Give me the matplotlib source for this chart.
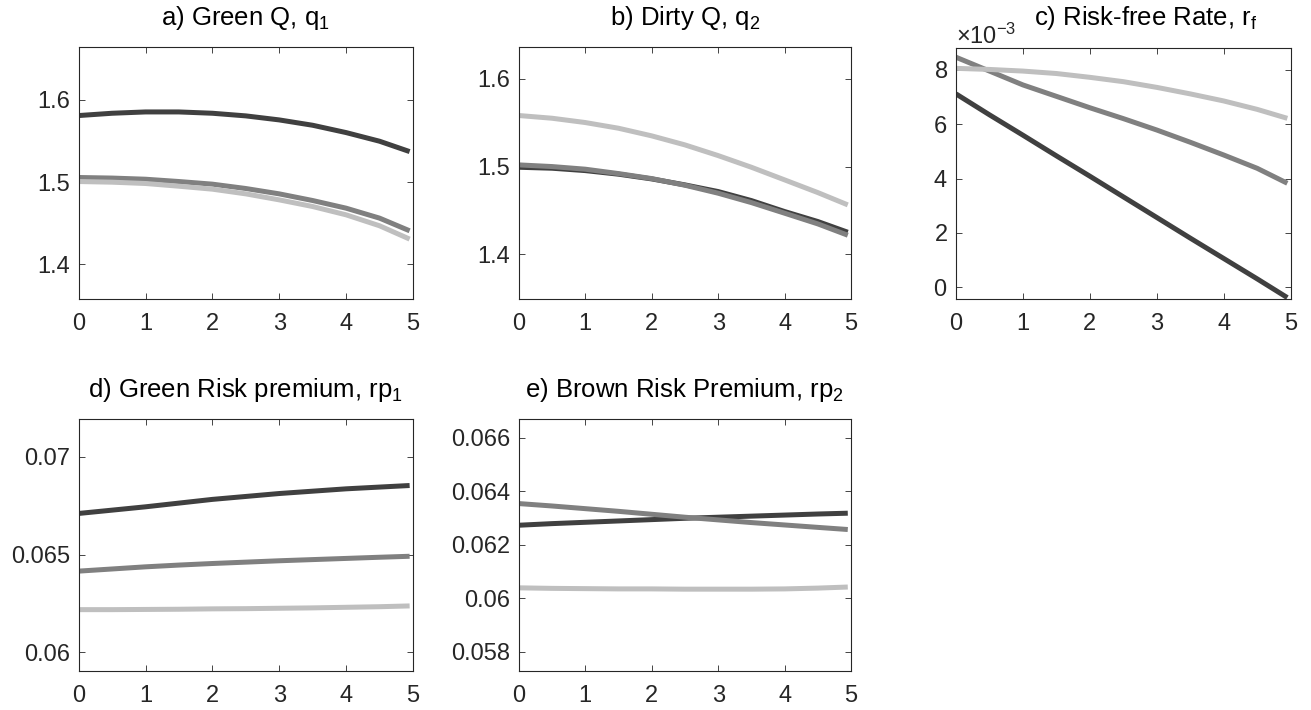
import matplotlib
matplotlib.use('Agg')
import matplotlib.pyplot as plt
from matplotlib.ticker import ScalarFormatter

plt.rcParams.update({
    'font.family': ['Liberation Sans', 'DejaVu Sans'],
    'mathtext.default': 'regular',
    'font.size': 17,
    'axes.edgecolor': '#262626',
    'axes.linewidth': 0.8,
    'xtick.color': '#262626',
    'ytick.color': '#262626',
    'xtick.direction': 'in',
    'ytick.direction': 'in',
    'xtick.top': True,
    'ytick.right': True,
    'xtick.major.size': 4,
    'ytick.major.size': 4,
    'xtick.major.width': 0.6,
    'ytick.major.width': 0.6,
})

DARK = '#404040'
MID = '#808080'
LIGHT = '#bfbfbf'

t = [0, 0.5, 1, 1.5, 2, 2.5, 3, 3.5, 4, 4.5, 4.95]

# a) green Q
q1_dark = [1.581, 1.5838, 1.5854, 1.5854, 1.5838, 1.5806, 1.5757, 1.5692, 1.5603, 1.5498, 1.5372]
q1_mid = [1.5057, 1.505, 1.5036, 1.5008, 1.4976, 1.4923, 1.4858, 1.4777, 1.4684, 1.4563, 1.4409]
q1_light = [1.5008, 1.5, 1.4984, 1.4951, 1.4915, 1.4858, 1.4785, 1.4704, 1.4603, 1.447, 1.4308]

# b) dirty Q
q2_dark = [1.4992, 1.4981, 1.4954, 1.4913, 1.4859, 1.4791, 1.4715, 1.4612, 1.4487, 1.4373, 1.4251]
q2_mid = [1.5019, 1.5, 1.497, 1.492, 1.4863, 1.4787, 1.4696, 1.4589, 1.4468, 1.4346, 1.4217]
q2_light = [1.5582, 1.5551, 1.5502, 1.5437, 1.535, 1.5247, 1.5125, 1.4992, 1.4848, 1.4703, 1.4563]

# c) risk-free rate
rf_dark = [7.12e-3, 6.35e-3, 5.6e-3, 4.84e-3, 4.09e-3, 3.33e-3, 2.57e-3, 1.81e-3, 1.06e-3, 0.31e-3, -0.38e-3]
rf_mid = [8.47e-3, 7.96e-3, 7.45e-3, 7.03e-3, 6.61e-3, 6.21e-3, 5.79e-3, 5.34e-3, 4.87e-3, 4.38e-3, 3.83e-3]
rf_light = [8.06e-3, 8.02e-3, 7.96e-3, 7.87e-3, 7.73e-3, 7.57e-3, 7.36e-3, 7.12e-3, 6.86e-3, 6.55e-3, 6.22e-3]

# d) green risk premium
rp1_dark = [0.0671, 0.06727, 0.06744, 0.06763, 0.06782, 0.06797, 0.06812, 0.06824, 0.06836, 0.06845, 0.06853]
rp1_mid = [0.06415, 0.06426, 0.06437, 0.06446, 0.06454, 0.06461, 0.06468, 0.06474, 0.0648, 0.06486, 0.06491]
rp1_light = [0.06218, 0.06218, 0.06219, 0.0622, 0.06222, 0.06223, 0.06225, 0.06227, 0.0623, 0.06233, 0.06237]

# e) brown risk premium
rp2_dark = [0.06273, 0.06279, 0.06284, 0.06289, 0.06294, 0.06299, 0.06303, 0.06307, 0.06311, 0.06315, 0.06318]
rp2_mid = [0.06354, 0.06345, 0.06335, 0.06325, 0.06314, 0.06303, 0.06293, 0.06283, 0.06274, 0.06265, 0.06257]
rp2_light = [0.06039, 0.06037, 0.06036, 0.06035, 0.06035, 0.06034, 0.06034, 0.06034, 0.06035, 0.06038, 0.06042]

panels = [
    ('a) Green Q, q$_1$', [0.0600, 0.5789, 0.2550, 0.3545], (q1_dark, q1_mid, q1_light),
     (1.358, 1.664), [1.4, 1.5, 1.6]),
    ('b) Dirty Q, q$_2$', [0.3957, 0.5789, 0.2535, 0.3545], (q2_dark, q2_mid, q2_light),
     (1.349, 1.636), [1.4, 1.5, 1.6]),
    ('c) Risk-free Rate, r$_f$', [0.7292, 0.5789, 0.2553, 0.3539], (rf_dark, rf_mid, rf_light),
     (-0.43e-3, 8.82e-3), [0, 2e-3, 4e-3, 6e-3, 8e-3]),
    ('d) Green Risk premium, rp$_1$', [0.0600, 0.0549, 0.2550, 0.3549], (rp1_dark, rp1_mid, rp1_light),
     (0.05904, 0.07193), [0.06, 0.065, 0.07]),
    ('e) Brown Risk Premium, rp$_2$', [0.3957, 0.0549, 0.2535, 0.3549], (rp2_dark, rp2_mid, rp2_light),
     (0.05728, 0.0667), [0.058, 0.06, 0.062, 0.064, 0.066]),
]

fig = plt.figure(figsize=(13.11, 7.10), dpi=100)

for title, pos, series, ylim, yticks in panels:
    ax = fig.add_axes(pos)
    for y, c in zip(series, (DARK, MID, LIGHT)):
        ax.plot(t, y, color=c, linewidth=3.6, solid_capstyle='butt')
    ax.set_xlim(0, 5)
    ax.set_ylim(*ylim)
    ax.set_xticks([0, 1, 2, 3, 4, 5])
    ax.set_yticks(yticks)
    ax.tick_params(axis='x', labelsize=17, pad=10)
    ax.tick_params(axis='y', labelsize=17, pad=6)
    if title.startswith('c)'):
        # nudge the title right so it clears the exponent label
        ax.set_title(title, fontsize=18.5, pad=16, color='black', x=0.568, y=1.0)
        fmt = ScalarFormatter(useMathText=True)
        fmt.set_powerlimits((-2, 2))
        ax.yaxis.set_major_formatter(fmt)
        ax.yaxis.get_offset_text().set_fontsize(17)
    else:
        ax.set_title(title, fontsize=18.5, pad=16, color='black', y=1.0)
        ax.set_yticklabels([f'{v:g}' for v in yticks])

fig.savefig('out.png', dpi=100)
